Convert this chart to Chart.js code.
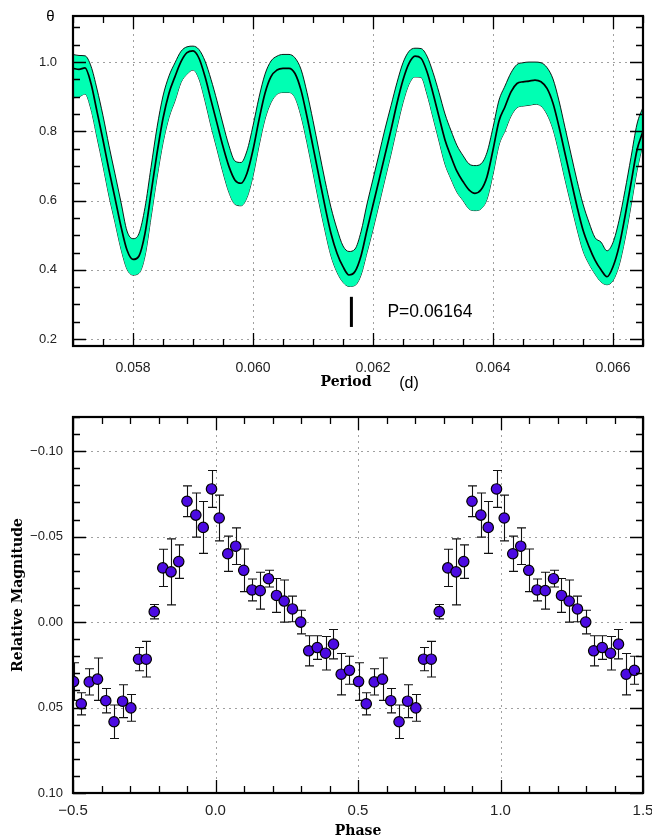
<!DOCTYPE html>
<html>
<head>
<meta charset="utf-8">
<script src="https://cdn.jsdelivr.net/npm/chart.js@4.4.1/dist/chart.umd.min.js"></script>
<style>
  html, body { margin: 0; padding: 0; background: #fff; }
  #wrap { position: relative; width: 652px; height: 838px; }
  canvas { position: absolute; left: 0; }
  #top { top: 0; }
  #bottom { top: 400px; }
</style>
</head>
<body>
<div id="wrap">
  <canvas id="top" width="652" height="400"></canvas>
  <canvas id="bottom" width="652" height="438"></canvas>
</div>
<script>
'use strict';

// ---- periodogram (theta vs period) ----
const periods = [
  0.0570, 0.0571, 0.0572, 0.0573, 0.0574, 0.0575, 0.0576, 0.0577, 0.0578, 0.0579,
  0.0580, 0.0581, 0.0582, 0.0583, 0.0584, 0.0585, 0.0586, 0.0587, 0.0588, 0.0589,
  0.0590, 0.0591, 0.0592, 0.0593, 0.0594, 0.0595, 0.0596, 0.0597, 0.0598, 0.0599,
  0.0600, 0.0601, 0.0602, 0.0603, 0.0604, 0.0605, 0.0606, 0.0607, 0.0608, 0.0609,
  0.0610, 0.0611, 0.0612, 0.0613, 0.0614, 0.0615, 0.0616, 0.0617, 0.0618, 0.0619,
  0.0620, 0.0621, 0.0622, 0.0623, 0.0624, 0.0625, 0.0626, 0.0627, 0.0628, 0.0629,
  0.0630, 0.0631, 0.0632, 0.0633, 0.0634, 0.0635, 0.0636, 0.0637, 0.0638, 0.0639,
  0.0640, 0.0641, 0.0642, 0.0643, 0.0644, 0.0645, 0.0646, 0.0647, 0.0648, 0.0649,
  0.0650, 0.0651, 0.0652, 0.0653, 0.0654, 0.0655, 0.0656, 0.0657, 0.0658, 0.0659,
  0.0660, 0.0661, 0.0662, 0.0663, 0.0664, 0.0665
];
const thetaMid = [
  0.982, 0.979, 0.983, 0.938, 0.857, 0.775, 0.688, 0.607, 0.525, 0.457,
  0.430, 0.440, 0.505, 0.621, 0.736, 0.837, 0.910, 0.958, 1.001, 1.027,
  1.032, 1.011, 0.958, 0.890, 0.823, 0.756, 0.698, 0.659, 0.650, 0.679,
  0.746, 0.833, 0.910, 0.958, 0.977, 0.982, 0.982, 0.967, 0.919, 0.842,
  0.756, 0.669, 0.583, 0.505, 0.448, 0.409, 0.385, 0.395, 0.440, 0.515,
  0.587, 0.659, 0.732, 0.804, 0.881, 0.948, 0.996, 1.017, 1.011, 0.972,
  0.910, 0.842, 0.775, 0.727, 0.684, 0.655, 0.631, 0.621, 0.631, 0.669,
  0.746, 0.830, 0.871, 0.914, 0.938, 0.943, 0.945, 0.948, 0.943, 0.924,
  0.881, 0.813, 0.736, 0.659, 0.583, 0.515, 0.467, 0.428, 0.400, 0.380,
  0.409, 0.467, 0.554, 0.650, 0.746, 0.800
];
const thetaHigh = [
  1.022, 1.019, 1.018, 0.988, 0.922, 0.845, 0.758, 0.677, 0.595, 0.512,
  0.490, 0.505, 0.580, 0.696, 0.811, 0.902, 0.960, 0.998, 1.031, 1.044,
  1.046, 1.036, 1.003, 0.950, 0.888, 0.821, 0.758, 0.714, 0.710, 0.744,
  0.816, 0.898, 0.965, 1.003, 1.017, 1.022, 1.022, 1.012, 0.979, 0.912,
  0.831, 0.744, 0.658, 0.580, 0.518, 0.469, 0.453, 0.460, 0.510, 0.590,
  0.662, 0.734, 0.807, 0.874, 0.941, 0.998, 1.031, 1.040, 1.039, 1.017,
  0.970, 0.912, 0.850, 0.802, 0.759, 0.730, 0.706, 0.701, 0.706, 0.739,
  0.811, 0.890, 0.931, 0.969, 0.993, 0.998, 1.000, 1.000, 0.998, 0.984,
  0.951, 0.888, 0.811, 0.734, 0.658, 0.590, 0.537, 0.493, 0.480, 0.455,
  0.479, 0.542, 0.629, 0.725, 0.821, 0.870
];
const thetaLow = [
  0.897, 0.899, 0.908, 0.863, 0.782, 0.700, 0.613, 0.537, 0.460, 0.402,
  0.385, 0.390, 0.440, 0.551, 0.666, 0.767, 0.840, 0.888, 0.941, 0.965,
  0.977, 0.951, 0.888, 0.815, 0.748, 0.681, 0.623, 0.589, 0.585, 0.609,
  0.671, 0.758, 0.835, 0.883, 0.907, 0.912, 0.912, 0.897, 0.844, 0.767,
  0.681, 0.594, 0.513, 0.440, 0.393, 0.364, 0.352, 0.355, 0.385, 0.450,
  0.517, 0.589, 0.662, 0.734, 0.811, 0.883, 0.936, 0.957, 0.956, 0.907,
  0.840, 0.772, 0.705, 0.662, 0.624, 0.600, 0.576, 0.571, 0.576, 0.604,
  0.676, 0.760, 0.801, 0.844, 0.868, 0.873, 0.875, 0.878, 0.873, 0.849,
  0.806, 0.738, 0.661, 0.589, 0.518, 0.455, 0.417, 0.388, 0.365, 0.357,
  0.369, 0.412, 0.489, 0.585, 0.686, 0.765
];
const periodTicks = [0.058, 0.060, 0.062, 0.064, 0.066];
const thetaTicks = [0.2, 0.4, 0.6, 0.8, 1.0];
const bestPeriod = 0.06164;
const bestMarkTheta = [0.235, 0.322];

// ---- phase-averaged light curve ----
const phases = [
  -0.498, -0.471, -0.443, -0.414, -0.385, -0.356, -0.326, -0.297, -0.270, -0.243,
  -0.215, -0.185, -0.156, -0.129, -0.100, -0.069, -0.043, -0.014, 0.013, 0.043,
  0.071, 0.099, 0.128, 0.157, 0.186, 0.214, 0.241, 0.270, 0.299, 0.327,
  0.357, 0.386, 0.414, 0.441, 0.470
];
const mags = [
  0.0348, 0.0478, 0.0350, 0.0334, 0.0460, 0.0583, 0.0463, 0.0502, 0.0217, 0.0217,
  -0.0061, -0.0317, -0.0294, -0.0354, -0.0707, -0.0626, -0.0554, -0.0779, -0.0609, -0.0400,
  -0.0444, -0.0303, -0.0188, -0.0184, -0.0254, -0.0156, -0.0123, -0.0077, 0.0000, 0.0168,
  0.0149, 0.0182, 0.0129, 0.0305, 0.0282
];
const magErrs = [
  0.0110, 0.0065, 0.0077, 0.0124, 0.0071, 0.0098, 0.0096, 0.0078, 0.0068, 0.0104,
  0.0042, 0.0109, 0.0193, 0.0098, 0.0090, 0.0129, 0.0152, 0.0108, 0.0134, 0.0103,
  0.0107, 0.0125, 0.0064, 0.0108, 0.0049, 0.0099, 0.0123, 0.0075, 0.0069, 0.0088,
  0.0069, 0.0098, 0.0086, 0.0121, 0.0082
];
const phaseTicks = [-0.5, 0.0, 0.5, 1.0, 1.5];
const magTicks = [-0.10, -0.05, 0.00, 0.05, 0.10];

const SANS = '"Liberation Sans", Arial, sans-serif';
const SERIF = '"DejaVu Serif", serif';

// fixed axis boxes so the plot areas land where the original has them
function fixBox(size) {
  return s => {
    if (s.isHorizontal()) s.height = size; else s.width = size;
    s.paddingTop = 0; s.paddingBottom = 0; s.paddingLeft = 0; s.paddingRight = 0;
  };
}

// grid, inward ticks on all four sides and the black frame
function framePlugin(cfg) {
  function steps(min, max, step) {
    const out = [];
    for (let i = Math.ceil(min / step - 1e-6); i * step <= max + 1e-9; i++) out.push(i * step);
    return out;
  }
  return {
    id: 'frame',
    beforeDatasetsDraw(chart) {
      const { ctx, chartArea: a, scales: { x, y } } = chart;
      ctx.save();
      ctx.strokeStyle = '#a0a0a0';
      ctx.lineWidth = 1;
      ctx.setLineDash([2, 4]);
      ctx.beginPath();
      cfg.xMajor.forEach(v => {
        const px = Math.round(x.getPixelForValue(v)) + 0.5;
        if (px > a.left + 2 && px < a.right - 2) { ctx.moveTo(px, a.top); ctx.lineTo(px, a.bottom); }
      });
      cfg.yMajor.forEach(v => {
        const py = Math.round(y.getPixelForValue(v)) + 0.5;
        if (py > a.top + 2 && py < a.bottom - 2) { ctx.moveTo(a.left, py); ctx.lineTo(a.right, py); }
      });
      ctx.stroke();
      ctx.restore();
    },
    afterDatasetsDraw(chart) {
      const { ctx, chartArea: a, scales: { x, y } } = chart;
      const isMajor = (list, v, step) => list.some(m => Math.abs(m - v) < step / 10);
      ctx.save();
      ctx.strokeStyle = '#000';
      ctx.lineWidth = 1.3;
      ctx.beginPath();
      steps(x.min, x.max, cfg.xMinor).forEach(v => {
        const px = Math.round(x.getPixelForValue(v)) + 0.5;
        const len = isMajor(cfg.xMajor, v, cfg.xMinor) ? 13 : 7;
        ctx.moveTo(px, a.bottom); ctx.lineTo(px, a.bottom - len);
        ctx.moveTo(px, a.top); ctx.lineTo(px, a.top + len);
      });
      steps(Math.min(y.min, y.max), Math.max(y.min, y.max), cfg.yMinor).forEach(v => {
        const py = Math.round(y.getPixelForValue(v)) + 0.5;
        const len = isMajor(cfg.yMajor, v, cfg.yMinor) ? 13 : 7;
        ctx.moveTo(a.left, py); ctx.lineTo(a.left + len, py);
        ctx.moveTo(a.right, py); ctx.lineTo(a.right - len, py);
      });
      ctx.stroke();
      ctx.lineWidth = 2.2;
      ctx.strokeRect(a.left, a.top, a.right - a.left, a.bottom - a.top);
      ctx.restore();
    }
  };
}

// ---------------- top chart ----------------
const topLabels = {
  id: 'topLabels',
  afterDraw(chart) {
    const { ctx, scales: { x, y } } = chart;
    ctx.save();
    ctx.fillStyle = '#000';
    ctx.textBaseline = 'middle';
    ctx.textAlign = 'center';
    ctx.font = '15px ' + SANS;
    ctx.fillText('\u03b8', 50.5, 17);
    ctx.font = 'bold 14px ' + SERIF;
    ctx.fillText('Period', 346, 382);
    ctx.font = '16px ' + SANS;
    ctx.fillText('(d)', 409, 384);
    ctx.textAlign = 'left';
    ctx.font = '17.5px ' + SANS;
    const yMid = (y.getPixelForValue(bestMarkTheta[0]) + y.getPixelForValue(bestMarkTheta[1])) / 2;
    ctx.fillText('P=' + bestPeriod, x.getPixelForValue(bestPeriod) + 36, yMid);
    ctx.restore();
  }
};

const curve = (vals) => periods.map((p, i) => ({ x: p, y: vals[i] }));

new Chart(document.getElementById('top'), {
  type: 'line',
  data: {
    datasets: [
      { data: curve(thetaMid), borderColor: '#000', borderWidth: 1.7, pointRadius: 0, fill: false, cubicInterpolationMode: 'monotone' },
      { data: curve(thetaHigh), borderColor: '#000', borderWidth: 0.9, pointRadius: 0, fill: '+1', backgroundColor: '#00FFB3', cubicInterpolationMode: 'monotone' },
      { data: curve(thetaLow), borderColor: '#000', borderWidth: 0.9, pointRadius: 0, fill: false, cubicInterpolationMode: 'monotone' },
      { data: [{ x: bestPeriod, y: bestMarkTheta[0] }, { x: bestPeriod, y: bestMarkTheta[1] }], borderColor: '#000', borderWidth: 3, pointRadius: 0, fill: false }
    ]
  },
  options: {
    responsive: false,
    animation: false,
    devicePixelRatio: 1,
    layout: { padding: { top: 16, right: 9, left: 0, bottom: 0 } },
    plugins: { legend: { display: false }, tooltip: { enabled: false } },
    scales: {
      x: {
        type: 'linear', min: 0.057, max: 0.0665,
        afterBuildTicks: s => { s.ticks = periodTicks.map(v => ({ value: v })); },
        afterFit: fixBox(54),
        grid: { display: false, drawTicks: false },
        border: { display: false },
        ticks: { padding: 14, maxRotation: 0, color: '#222', font: { family: SANS, size: 14 }, callback: v => v.toFixed(3) }
      },
      y: {
        type: 'linear', min: 0.18, max: 1.133,
        afterBuildTicks: s => { s.ticks = thetaTicks.map(v => ({ value: v })); },
        afterFit: fixBox(73),
        grid: { display: false, drawTicks: false },
        border: { display: false },
        ticks: { padding: 16, color: '#222', font: { family: SANS, size: 13 }, callback: v => v.toFixed(1) }
      }
    }
  },
  plugins: [framePlugin({ xMajor: periodTicks, xMinor: 0.0005, yMajor: thetaTicks, yMinor: 0.05 }), topLabels]
});

// ---------------- bottom chart ----------------
const shown = [];
phases.forEach((p, i) => {
  shown.push({ x: p, y: mags[i], e: magErrs[i] });
  shown.push({ x: p + 1, y: mags[i], e: magErrs[i] });
});

const errorBars = {
  id: 'errorBars',
  beforeDatasetsDraw(chart) {
    const { ctx, chartArea: a, scales: { x, y } } = chart;
    ctx.save();
    ctx.beginPath();
    ctx.rect(a.left, a.top, a.right - a.left, a.bottom - a.top);
    ctx.clip();
    ctx.strokeStyle = '#111';
    ctx.lineWidth = 1.1;
    ctx.beginPath();
    shown.forEach(d => {
      const px = Math.round(x.getPixelForValue(d.x)) + 0.5;
      const y1 = y.getPixelForValue(d.y - d.e);
      const y2 = y.getPixelForValue(d.y + d.e);
      ctx.moveTo(px, y1); ctx.lineTo(px, y2);
      ctx.moveTo(px - 4.5, y1); ctx.lineTo(px + 4.5, y1);
      ctx.moveTo(px - 4.5, y2); ctx.lineTo(px + 4.5, y2);
    });
    ctx.stroke();
    ctx.restore();
  }
};

const bottomLabels = {
  id: 'bottomLabels',
  afterDraw(chart) {
    const { ctx } = chart;
    ctx.save();
    ctx.fillStyle = '#000';
    ctx.textAlign = 'center';
    ctx.textBaseline = 'middle';
    ctx.font = 'bold 14px ' + SERIF;
    ctx.fillText('Phase', 358, 431);
    ctx.translate(18, 195);
    ctx.rotate(-Math.PI / 2);
    ctx.fillText('Relative Magnitude', 0, 0);
    ctx.restore();
  }
};

const signed = (v, d) => (v < -1e-9 ? '\u2212' : '') + Math.abs(v).toFixed(d);

new Chart(document.getElementById('bottom'), {
  type: 'scatter',
  data: {
    datasets: [{
      data: shown.map(d => ({ x: d.x, y: d.y })),
      pointRadius: 5.2,
      pointBackgroundColor: '#4C0BE2',
      pointBorderColor: '#000',
      pointBorderWidth: 1.2,
      clip: 0
    }]
  },
  options: {
    responsive: false,
    animation: false,
    devicePixelRatio: 1,
    layout: { padding: { top: 17, right: 9, left: 0, bottom: 0 } },
    plugins: { legend: { display: false }, tooltip: { enabled: false } },
    scales: {
      x: {
        type: 'linear', min: -0.5, max: 1.5,
        afterBuildTicks: s => { s.ticks = phaseTicks.map(v => ({ value: v })); },
        afterFit: fixBox(45),
        grid: { display: false, drawTicks: false },
        border: { display: false },
        ticks: { padding: 9, maxRotation: 0, color: '#222', font: { family: SANS, size: 15 }, callback: v => signed(v, 1) }
      },
      y: {
        type: 'linear', min: -0.12, max: 0.10, reverse: true,
        afterBuildTicks: s => { s.ticks = magTicks.map(v => ({ value: v })); },
        afterFit: fixBox(73),
        grid: { display: false, drawTicks: false },
        border: { display: false },
        ticks: { padding: 10, color: '#222', font: { family: SANS, size: 13 }, callback: v => signed(v, 2) }
      }
    }
  },
  plugins: [framePlugin({ xMajor: phaseTicks, xMinor: 0.1, yMajor: magTicks, yMinor: 0.01 }), errorBars, bottomLabels]
});
</script>
</body>
</html>
